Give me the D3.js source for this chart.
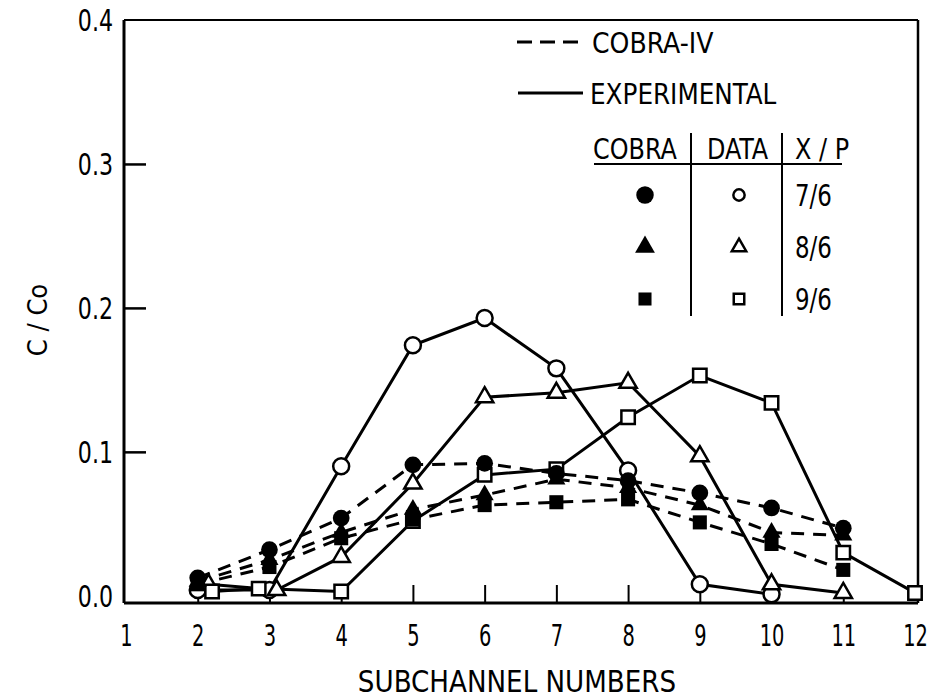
<!DOCTYPE html>
<html>
<head>
<meta charset="utf-8">
<script src="https://cdn.jsdelivr.net/npm/d3@7"></script>
<style>
  body { margin: 0; background: #fff; }
  svg text { font-family: 'DejaVu Sans Condensed', 'DejaVu Sans', sans-serif; font-stretch: condensed; fill: #000; }
</style>
</head>
<body>
<svg id="chart" width="931" height="700"></svg>
<script>
// subchannel positions
const xTicks = [1, 2, 3, 4, 5, 6, 7, 8, 9, 10, 11, 12];
const yTicks = [0, 0.1, 0.2, 0.3, 0.4];

// experimental data (open markers, solid lines)
const exp76X = [2, 3, 4, 5, 6, 7, 8, 9, 10];
const exp76Y = [0.004, 0.004, 0.090, 0.174, 0.193, 0.158, 0.087, 0.008, 0.001];
const exp86X = [2.15, 3.1, 4, 5, 6, 7, 8, 9, 10, 11];
const exp86Y = [0.008, 0.004, 0.027, 0.078, 0.138, 0.141, 0.148, 0.097, 0.008, 0.002];
const exp96X = [2.2, 2.85, 4, 5, 6, 7, 8, 9, 10, 11, 12];
const exp96Y = [0.003, 0.005, 0.003, 0.052, 0.084, 0.088, 0.124, 0.153, 0.134, 0.030, 0.002];

// COBRA-IV predictions (filled markers, dashed lines)
const cobraX = [2, 3, 4, 5, 6, 7, 8, 9, 10, 11];
const cob76Y = [0.0125, 0.032, 0.054, 0.091, 0.092, 0.085, 0.080, 0.0715, 0.061, 0.047];
const cob86Y = [0.010, 0.025, 0.044, 0.060, 0.070, 0.081, 0.075, 0.063, 0.044, 0.042];
const cob96Y = [0.008, 0.020, 0.040, 0.053, 0.063, 0.065, 0.067, 0.051, 0.036, 0.018];

const legendRows = ['7/6', '8/6', '9/6'];

const svg = d3.select('#chart');
const frame = { left: 124, right: 918, top: 20, bottom: 603 };

const x = d3.scaleLinear().domain([1, 12]).range([126, 915]);
const y = d3.scaleLinear().domain([-0.005, 0.4]).range([frame.bottom, frame.top]);

const shapes = {
    circle: d3.symbolCircle,
    triangle: d3.symbolTriangle,
    square: d3.symbolSquare
};
const sizes = { circle: 200, triangle: 130, square: 180 };

// narrow the text horizontally (the original lettering is condensed)
function squeeze(sel, k) {
    sel.each(function () {
        const t = d3.select(this);
        const tx = +t.attr('x') || 0;
        t.attr('x', tx / k).attr('transform', `scale(${k},1)`);
    });
}

// frame
svg.append('line').attr('x1', frame.left).attr('x2', frame.right).attr('y1', frame.top).attr('y2', frame.top)
    .attr('stroke', '#000').attr('stroke-width', 2);
svg.append('line').attr('x1', frame.right).attr('x2', frame.right).attr('y1', frame.top).attr('y2', frame.bottom)
    .attr('stroke', '#000').attr('stroke-width', 2.5);

// axes
const yAxis = svg.append('g')
    .attr('transform', `translate(${frame.left},0)`)
    .call(d3.axisRight(y).tickValues(yTicks).tickSize(22).tickFormat(d3.format('.1f')));
yAxis.select('.domain').attr('d', `M0,${frame.top}V${frame.bottom}`).attr('stroke-width', 3);
yAxis.selectAll('.tick line').attr('stroke-width', 2.5)
    .filter(d => d === 0 || d === 0.4).remove();
yAxis.selectAll('.tick text')
    .attr('x', -11).attr('dy', '0.36em').attr('text-anchor', 'end')
    .attr('font-size', 30).attr('font-family', null)
    .call(squeeze, 0.82);

const xAxis = svg.append('g')
    .attr('transform', `translate(0,${frame.bottom})`)
    .call(d3.axisTop(x).tickValues(xTicks).tickSize(18));
xAxis.select('.domain').attr('d', `M${frame.left},0H${frame.right}`).attr('stroke-width', 3);
xAxis.selectAll('.tick line').attr('stroke-width', 2)
    .filter(d => d === 1 || d === 12).remove();
xAxis.selectAll('.tick text')
    .attr('y', 43).attr('dy', 0).attr('font-size', 30).attr('font-family', null)
    .call(squeeze, 0.72);

// axis titles
svg.append('text').attr('x', 517).attr('y', 692)
    .attr('text-anchor', 'middle').attr('font-size', 30)
    .text('SUBCHANNEL NUMBERS')
    .call(squeeze, 0.97);
svg.append('text')
    .attr('transform', 'translate(47,320) rotate(-90)')
    .attr('text-anchor', 'middle').attr('font-size', 27)
    .text('C / Co');

// lines
const line = d3.line().x(d => x(d[0])).y(d => y(d[1]));
const expSeries = [
    { xs: exp76X, ys: exp76Y, shape: 'circle' },
    { xs: exp86X, ys: exp86Y, shape: 'triangle' },
    { xs: exp96X, ys: exp96Y, shape: 'square' }
];
const cobSeries = [
    { xs: cobraX, ys: cob76Y, shape: 'circle' },
    { xs: cobraX, ys: cob86Y, shape: 'triangle' },
    { xs: cobraX, ys: cob96Y, shape: 'square' }
];

cobSeries.forEach(s => {
    svg.append('path').datum(d3.zip(s.xs, s.ys))
        .attr('d', line).attr('fill', 'none')
        .attr('stroke', '#000').attr('stroke-width', 3)
        .attr('stroke-dasharray', '13,9');
});
expSeries.forEach(s => {
    svg.append('path').datum(d3.zip(s.xs, s.ys))
        .attr('d', line).attr('fill', 'none')
        .attr('stroke', '#000').attr('stroke-width', 3);
});

// markers
expSeries.forEach(s => {
    svg.append('g').selectAll('path').data(d3.zip(s.xs, s.ys)).join('path')
        .attr('transform', d => `translate(${x(d[0])},${y(d[1])})`)
        .attr('d', d3.symbol(shapes[s.shape], sizes[s.shape]))
        .attr('fill', '#fff').attr('stroke', '#000').attr('stroke-width', 2.5);
});
cobSeries.forEach(s => {
    svg.append('g').selectAll('path').data(d3.zip(s.xs, s.ys)).join('path')
        .attr('transform', d => `translate(${x(d[0])},${y(d[1])})`)
        .attr('d', d3.symbol(shapes[s.shape], sizes[s.shape] * 1.1))
        .attr('fill', '#000');
});

// legend
const lg = svg.append('g');
lg.append('line').attr('x1', 517).attr('x2', 584).attr('y1', 42).attr('y2', 42)
    .attr('stroke', '#000').attr('stroke-width', 3).attr('stroke-dasharray', '15,8');
lg.append('text').attr('x', 592).attr('y', 53).attr('font-size', 28).text('COBRA-IV');
lg.append('line').attr('x1', 518).attr('x2', 583).attr('y1', 93).attr('y2', 93)
    .attr('stroke', '#000').attr('stroke-width', 3);
lg.append('text').attr('x', 590).attr('y', 104).attr('font-size', 28).text('EXPERIMENTAL')
    .call(squeeze, 0.98);

lg.append('text').attr('x', 593).attr('y', 159).attr('font-size', 28).text('COBRA').call(squeeze, 0.95);
lg.append('text').attr('x', 707).attr('y', 159).attr('font-size', 28).text('DATA').call(squeeze, 0.95);
lg.append('text').attr('x', 795).attr('y', 159).attr('font-size', 28).text('X / P').call(squeeze, 0.95);
lg.append('line').attr('x1', 594).attr('x2', 842).attr('y1', 164).attr('y2', 164)
    .attr('stroke', '#000').attr('stroke-width', 2);
[691, 782].forEach(vx => {
    lg.append('line').attr('x1', vx).attr('x2', vx).attr('y1', 133).attr('y2', 316)
        .attr('stroke', '#000').attr('stroke-width', 2);
});
const legendShapes = ['circle', 'triangle', 'square'];
const legendSizes = { circle: [240, 100], triangle: [170, 90], square: [170, 110] };
legendRows.forEach((lab, i) => {
    const cy = 195 + i * 52;
    const sh = legendShapes[i];
    lg.append('path').attr('transform', `translate(645,${cy})`)
        .attr('d', d3.symbol(shapes[sh], legendSizes[sh][0])).attr('fill', '#000');
    lg.append('path').attr('transform', `translate(739,${cy})`)
        .attr('d', d3.symbol(shapes[sh], legendSizes[sh][1]))
        .attr('fill', '#fff').attr('stroke', '#000').attr('stroke-width', 2.5);
    lg.append('text').attr('x', 795).attr('y', cy + 11).attr('font-size', 30).text(lab)
        .call(squeeze, 0.85);
});
</script>
</body>
</html>
